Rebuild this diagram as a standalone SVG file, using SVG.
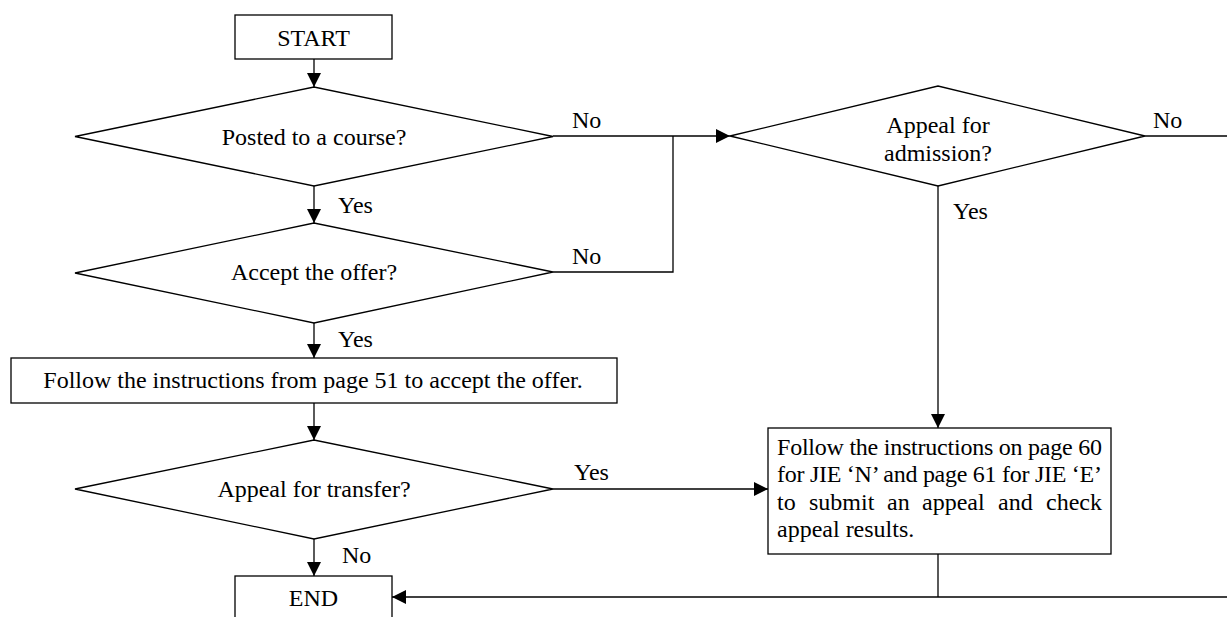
<svg xmlns="http://www.w3.org/2000/svg" width="1227" height="617" viewBox="0 0 1227 617">
<style>
.shape{fill:#fff;stroke:#000;stroke-width:1.3}
.conn{fill:none;stroke:#000;stroke-width:1.3}
text{font-family:"Liberation Serif","Times New Roman",serif;font-size:24px;fill:#000}
.c{text-anchor:middle}
</style>
<defs>
<marker id="arr" markerUnits="userSpaceOnUse" markerWidth="16" markerHeight="14" refX="14" refY="7" orient="auto">
<path d="M0,0 L14,7 L0,14 Z" fill="#000"/>
</marker>
</defs>
<rect width="1227" height="617" fill="#fff"/>
<g id="connectors">
<line class="conn" x1="314" y1="59" x2="314" y2="87" marker-end="url(#arr)"/>
<line class="conn" x1="314" y1="186" x2="314" y2="223" marker-end="url(#arr)"/>
<line class="conn" x1="314" y1="323" x2="314" y2="358" marker-end="url(#arr)"/>
<line class="conn" x1="314" y1="403" x2="314" y2="440" marker-end="url(#arr)"/>
<line class="conn" x1="314" y1="539" x2="314" y2="576" marker-end="url(#arr)"/>
<line class="conn" x1="553" y1="136" x2="730" y2="136" marker-end="url(#arr)"/>
<polyline class="conn" points="553,272 673,272 673,136"/>
<line class="conn" x1="938" y1="186" x2="938" y2="428" marker-end="url(#arr)"/>
<line class="conn" x1="1145" y1="136" x2="1227" y2="136"/>
<line class="conn" x1="553" y1="489" x2="768" y2="489" marker-end="url(#arr)"/>
<line class="conn" x1="938" y1="554" x2="938" y2="597"/>
<line class="conn" x1="1227" y1="597" x2="392" y2="597" marker-end="url(#arr)"/>
<text x="572" y="128">No</text>
<text x="572" y="264">No</text>
<text x="1153" y="128">No</text>
<text x="338" y="213">Yes</text>
<text x="338" y="347">Yes</text>
<text x="953" y="219">Yes</text>
<text x="574" y="480">Yes</text>
<text x="342" y="563">No</text>
</g>
<g id="start">
<rect class="shape" x="235" y="15" width="157" height="44"/>
<text class="c" x="313.5" y="46">START</text>
</g>
<g id="posted">
<polygon class="shape" points="75,136.5 314,87 553,136.5 314,186"/>
<text class="c" x="314" y="145">Posted to a course?</text>
</g>
<g id="accept">
<polygon class="shape" points="75,273 314,223 553,272 314,323"/>
<text class="c" x="314" y="280">Accept the offer?</text>
</g>
<g id="follow51">
<rect class="shape" x="11" y="358" width="606" height="45"/>
<text class="c" x="313" y="388">Follow the instructions from page 51 to accept the offer.</text>
</g>
<g id="transfer">
<polygon class="shape" points="75,489 314,440 553,489 314,539"/>
<text class="c" x="314" y="497">Appeal for transfer?</text>
</g>
<g id="admission">
<polygon class="shape" points="730,136 938,86 1145,136 938,186"/>
<text class="c" x="938" y="133">Appeal for</text>
<text class="c" x="938" y="161">admission?</text>
</g>
<g id="appealbox">
<rect class="shape" x="768" y="428" width="343" height="126"/>
<text x="777" y="455" textLength="325" lengthAdjust="spacing">Follow the instructions on page 60</text>
<text x="777" y="482" textLength="325" lengthAdjust="spacing">for JIE ‘N’ and page 61 for JIE ‘E’</text>
<text y="510"><tspan x="777">to</tspan><tspan x="809">submit</tspan><tspan x="887">an</tspan><tspan x="922">appeal</tspan><tspan x="998">and</tspan><tspan x="1046">check</tspan></text>
<text x="777" y="537">appeal results.</text>
</g>
<g id="end">
<rect class="shape" x="235" y="576" width="157" height="60"/>
<text class="c" x="313.5" y="606">END</text>
</g>
</svg>
